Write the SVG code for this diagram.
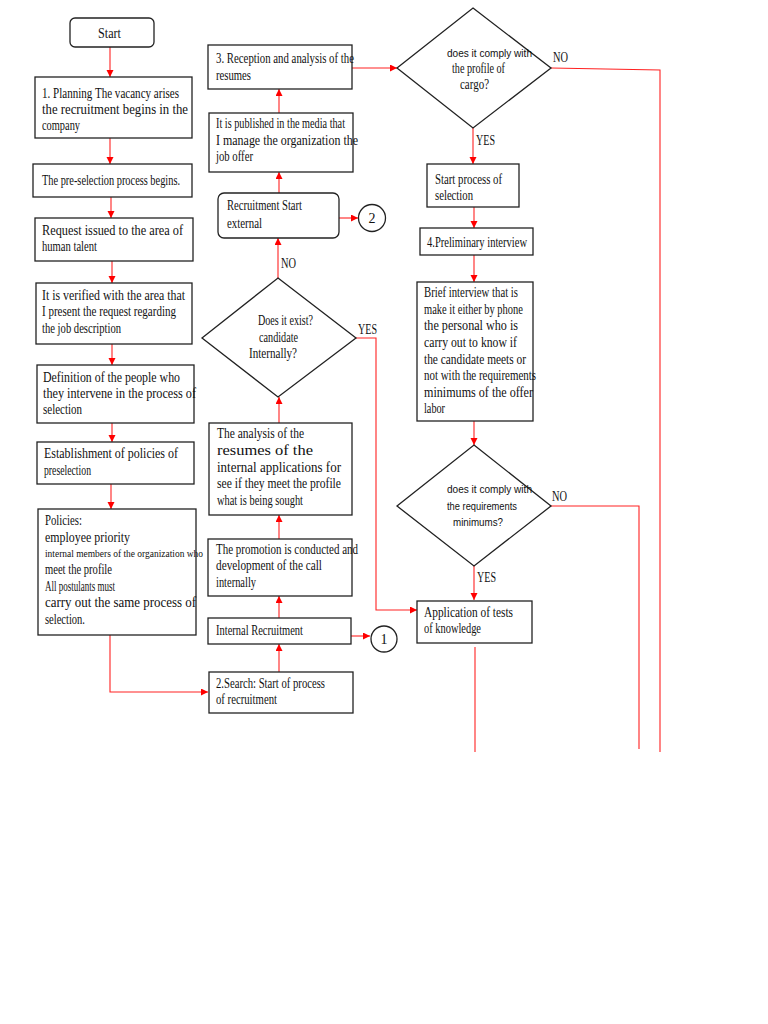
<svg xmlns="http://www.w3.org/2000/svg" width="768" height="1024" viewBox="0 0 768 1024">
<style>
.b{fill:#fff;stroke:#222;stroke-width:1.3}
.t{font-family:"Liberation Serif","Times New Roman",serif;font-size:14px;fill:#111}
.s{font-family:"Liberation Sans",Arial,sans-serif;font-size:11px;fill:#111}
.c{fill:none;stroke:#f22;stroke-width:1.1}
</style>
<defs>
<marker id="ah" markerUnits="userSpaceOnUse" markerWidth="8" markerHeight="8" refX="7" refY="3.5" orient="auto">
<path d="M0,0 L7,3.5 L0,7 z" fill="#f00"/>
</marker>
</defs>
<rect width="768" height="1024" fill="#fff"/>
<g id="connectors">
<path class="c" d="M110,47 V77" marker-end="url(#ah)"/>
<path class="c" d="M110,138 V164" marker-end="url(#ah)"/>
<path class="c" d="M111,197 V218" marker-end="url(#ah)"/>
<path class="c" d="M112,261 V283" marker-end="url(#ah)"/>
<path class="c" d="M112,344 V365" marker-end="url(#ah)"/>
<path class="c" d="M112,423 V442" marker-end="url(#ah)"/>
<path class="c" d="M111,484 V509" marker-end="url(#ah)"/>
<path class="c" d="M110,635 V692 H208" marker-end="url(#ah)"/>
<path class="c" d="M279,672 V644" marker-end="url(#ah)"/>
<path class="c" d="M351,636 H370" marker-end="url(#ah)"/>
<path class="c" d="M279,618 V596" marker-end="url(#ah)"/>
<path class="c" d="M279,539 V515" marker-end="url(#ah)"/>
<path class="c" d="M279,423 V397" marker-end="url(#ah)"/>
<path class="c" d="M278,278 V238" marker-end="url(#ah)"/>
<path class="c" d="M356,338 H376 V610 H417" marker-end="url(#ah)"/>
<path class="c" d="M339,218 H358" marker-end="url(#ah)"/>
<path class="c" d="M279,193 V172" marker-end="url(#ah)"/>
<path class="c" d="M279,113 V89" marker-end="url(#ah)"/>
<path class="c" d="M352,68 H397" marker-end="url(#ah)"/>
<path class="c" d="M551,68 L660,70 V752"/>
<path class="c" d="M473,128 V164" marker-end="url(#ah)"/>
<path class="c" d="M474,207 V228" marker-end="url(#ah)"/>
<path class="c" d="M474,255 V282" marker-end="url(#ah)"/>
<path class="c" d="M474,421 V445" marker-end="url(#ah)"/>
<path class="c" d="M551,506 H639 V749"/>
<path class="c" d="M474,566 V600" marker-end="url(#ah)"/>
<path class="c" d="M475,647 V752"/>
</g>
<g id="start"><rect class="b" x="70" y="18" width="84" height="29" rx="5"/><text class="t" x="98" y="38" textLength="23" lengthAdjust="spacingAndGlyphs">Start</text></g>
<g id="planning"><rect class="b" x="35" y="77" width="157" height="61"/>
<text class="t" x="42" y="98" textLength="137" lengthAdjust="spacingAndGlyphs">1. Planning The vacancy arises</text>
<text class="t" x="42" y="114" textLength="146" lengthAdjust="spacingAndGlyphs">the recruitment begins in the</text>
<text class="t" x="42" y="130" textLength="38" lengthAdjust="spacingAndGlyphs">company</text></g>
<g id="preselection"><rect class="b" x="33" y="164" width="159" height="33"/>
<text class="t" x="42" y="185" textLength="138" lengthAdjust="spacingAndGlyphs">The pre-selection process begins.</text></g>
<g id="request"><rect class="b" x="35" y="218" width="158" height="43"/>
<text class="t" x="42" y="235" textLength="141" lengthAdjust="spacingAndGlyphs">Request issued to the area of</text>
<text class="t" x="42" y="251" textLength="55" lengthAdjust="spacingAndGlyphs">human talent</text></g>
<g id="verified"><rect class="b" x="36" y="283" width="156" height="61"/>
<text class="t" x="42" y="300" textLength="143" lengthAdjust="spacingAndGlyphs">It is verified with the area that</text>
<text class="t" x="42" y="316" textLength="134" lengthAdjust="spacingAndGlyphs">I present the request regarding</text>
<text class="t" x="42" y="333" textLength="79" lengthAdjust="spacingAndGlyphs">the job description</text></g>
<g id="definition"><rect class="b" x="37" y="365" width="157" height="58"/>
<text class="t" x="43" y="382" textLength="137" lengthAdjust="spacingAndGlyphs">Definition of the people who</text>
<text class="t" x="43" y="398" textLength="153" lengthAdjust="spacingAndGlyphs">they intervene in the process of</text>
<text class="t" x="43" y="414" textLength="39" lengthAdjust="spacingAndGlyphs">selection</text></g>
<g id="establishment"><rect class="b" x="37" y="442" width="157" height="42"/>
<text class="t" x="44" y="458" textLength="134" lengthAdjust="spacingAndGlyphs">Establishment of policies of</text>
<text class="t" x="44" y="475" textLength="47" lengthAdjust="spacingAndGlyphs">preselection</text></g>
<g id="policies"><rect class="b" x="38" y="509" width="158" height="126"/>
<text class="t" x="45" y="525" textLength="37" lengthAdjust="spacingAndGlyphs">Policies:</text>
<text class="t" x="45" y="542" textLength="85" lengthAdjust="spacingAndGlyphs">employee priority</text>
<text class="t" x="45" y="557" textLength="158" lengthAdjust="spacingAndGlyphs" style="font-size:10px">internal members of the organization who</text>
<text class="t" x="45" y="574" textLength="67" lengthAdjust="spacingAndGlyphs">meet the profile</text>
<text class="t" x="45" y="591" textLength="70" lengthAdjust="spacingAndGlyphs">All postulants must</text>
<text class="t" x="45" y="607" textLength="151" lengthAdjust="spacingAndGlyphs">carry out the same process of</text>
<text class="t" x="45" y="624" textLength="40" lengthAdjust="spacingAndGlyphs">selection.</text></g>
<g id="search"><rect class="b" x="209" y="672" width="144" height="41"/>
<text class="t" x="216" y="688" textLength="109" lengthAdjust="spacingAndGlyphs">2.Search: Start of process</text>
<text class="t" x="216" y="704" textLength="61" lengthAdjust="spacingAndGlyphs">of recruitment</text></g>
<g id="internal"><rect class="b" x="208" y="618" width="143" height="26"/>
<text class="t" x="216" y="635" textLength="87" lengthAdjust="spacingAndGlyphs">Internal Recruitment</text></g>
<g id="conn1"><circle class="b" cx="384" cy="639" r="13"/><text class="t" x="384" y="644" text-anchor="middle">1</text></g>
<g id="promotion"><rect class="b" x="208" y="539" width="144" height="57"/>
<text class="t" x="216" y="554" textLength="142" lengthAdjust="spacingAndGlyphs">The promotion is conducted and</text>
<text class="t" x="216" y="570" textLength="106" lengthAdjust="spacingAndGlyphs">development of the call</text>
<text class="t" x="216" y="587" textLength="40" lengthAdjust="spacingAndGlyphs">internally</text></g>
<g id="analysis"><rect class="b" x="209" y="423" width="143" height="92"/>
<text class="t" x="217" y="438" textLength="87" lengthAdjust="spacingAndGlyphs">The analysis of the</text>
<text class="t" x="217" y="455" textLength="96" lengthAdjust="spacingAndGlyphs">resumes of the</text>
<text class="t" x="217" y="472" textLength="124" lengthAdjust="spacingAndGlyphs">internal applications for</text>
<text class="t" x="217" y="488" textLength="124" lengthAdjust="spacingAndGlyphs">see if they meet the profile</text>
<text class="t" x="217" y="505" textLength="86" lengthAdjust="spacingAndGlyphs">what is being sought</text></g>
<g id="exist"><polygon class="b" points="278,278 356,338 278,397 202,338"/>
<text class="t" x="258" y="325" textLength="55" lengthAdjust="spacingAndGlyphs">Does it exist?</text>
<text class="t" x="259" y="342" textLength="39" lengthAdjust="spacingAndGlyphs">candidate</text>
<text class="t" x="249" y="358" textLength="48" lengthAdjust="spacingAndGlyphs">Internally?</text>
<text class="t" x="358" y="334" textLength="19" lengthAdjust="spacingAndGlyphs">YES</text>
<text class="t" x="281" y="268" textLength="15" lengthAdjust="spacingAndGlyphs">NO</text></g>
<g id="external"><rect class="b" x="218" y="193" width="121" height="45" rx="6"/>
<text class="t" x="227" y="210" textLength="75" lengthAdjust="spacingAndGlyphs">Recruitment Start</text>
<text class="t" x="227" y="228" textLength="35" lengthAdjust="spacingAndGlyphs">external</text></g>
<g id="conn2"><circle class="b" cx="372" cy="218" r="13.5"/><text class="t" x="372" y="223" text-anchor="middle">2</text></g>
<g id="published"><rect class="b" x="209" y="113" width="144" height="59"/>
<text class="t" x="216" y="128" textLength="129" lengthAdjust="spacingAndGlyphs">It is published in the media that</text>
<text class="t" x="216" y="145" textLength="142" lengthAdjust="spacingAndGlyphs">I manage the organization the</text>
<text class="t" x="216" y="161" textLength="37" lengthAdjust="spacingAndGlyphs">job offer</text></g>
<g id="reception"><rect class="b" x="208" y="45" width="144" height="44"/>
<text class="t" x="216" y="63" textLength="138" lengthAdjust="spacingAndGlyphs">3. Reception and analysis of the</text>
<text class="t" x="216" y="80" textLength="35" lengthAdjust="spacingAndGlyphs">resumes</text></g>
<g id="profile"><polygon class="b" points="473,8 551,68 473,128 397,68"/>
<text class="s" x="447" y="57" textLength="85" lengthAdjust="spacingAndGlyphs">does it comply with</text>
<text class="t" x="452" y="73" textLength="53" lengthAdjust="spacingAndGlyphs">the profile of</text>
<text class="t" x="460" y="89" textLength="29" lengthAdjust="spacingAndGlyphs">cargo?</text>
<text class="t" x="553" y="62" textLength="15" lengthAdjust="spacingAndGlyphs">NO</text>
<text class="t" x="476" y="145" textLength="19" lengthAdjust="spacingAndGlyphs">YES</text></g>
<g id="startselection"><rect class="b" x="427" y="164" width="92" height="43"/>
<text class="t" x="435" y="184" textLength="67" lengthAdjust="spacingAndGlyphs">Start process of</text>
<text class="t" x="435" y="200" textLength="38" lengthAdjust="spacingAndGlyphs">selection</text></g>
<g id="preliminary"><rect class="b" x="420" y="228" width="113" height="27"/>
<text class="t" x="427" y="247" textLength="100" lengthAdjust="spacingAndGlyphs">4.Preliminary interview</text></g>
<g id="brief"><rect class="b" x="417" y="282" width="116" height="139"/>
<text class="t" x="424" y="297" textLength="94" lengthAdjust="spacingAndGlyphs">Brief interview that is</text>
<text class="t" x="424" y="314" textLength="99" lengthAdjust="spacingAndGlyphs">make it either by phone</text>
<text class="t" x="424" y="330" textLength="94" lengthAdjust="spacingAndGlyphs">the personal who is</text>
<text class="t" x="424" y="347" textLength="93" lengthAdjust="spacingAndGlyphs">carry out to know if</text>
<text class="t" x="424" y="364" textLength="102" lengthAdjust="spacingAndGlyphs">the candidate meets or</text>
<text class="t" x="424" y="380" textLength="112" lengthAdjust="spacingAndGlyphs">not with the requirements</text>
<text class="t" x="424" y="397" textLength="109" lengthAdjust="spacingAndGlyphs">minimums of the offer</text>
<text class="t" x="424" y="413" textLength="21" lengthAdjust="spacingAndGlyphs">labor</text></g>
<g id="requirements"><polygon class="b" points="474,445 551,506 474,566 397,506"/>
<text class="s" x="447" y="493" textLength="85" lengthAdjust="spacingAndGlyphs">does it comply with</text>
<text class="s" x="447" y="510" textLength="70" lengthAdjust="spacingAndGlyphs">the requirements</text>
<text class="s" x="453" y="526" textLength="50" lengthAdjust="spacingAndGlyphs">minimums?</text>
<text class="t" x="552" y="501" textLength="15" lengthAdjust="spacingAndGlyphs">NO</text>
<text class="t" x="477" y="582" textLength="19" lengthAdjust="spacingAndGlyphs">YES</text></g>
<g id="application"><rect class="b" x="417" y="601" width="115" height="42"/>
<text class="t" x="424" y="617" textLength="89" lengthAdjust="spacingAndGlyphs">Application of tests</text>
<text class="t" x="424" y="633" textLength="57" lengthAdjust="spacingAndGlyphs">of knowledge</text></g>
</svg>
